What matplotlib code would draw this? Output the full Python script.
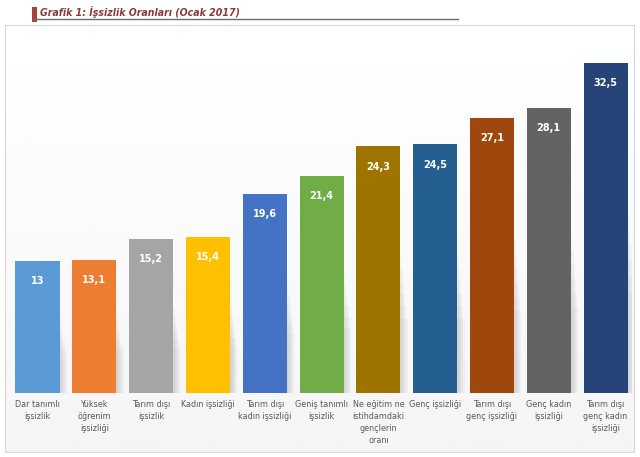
import matplotlib
matplotlib.use("Agg")
import matplotlib.pyplot as plt
import numpy as np
from matplotlib.patches import Rectangle

categories = ["Dar tanımlı\nişsizlik", "Yüksek\nöğrenim\nişsizliği", "Tarım dışı\nişsizlik",
              "Kadın işsizliği", "Tarım dışı\nkadın işsizliği", "Geniş tanımlı\nişsizlik",
              "Ne eğitim ne\nistihdamdaki\ngençlerin\noranı", "Genç işsizliği",
              "Tarım dışı\ngenç işsizliği", "Genç kadın\nişsizliği", "Tarım dışı\ngenç kadın\nişsizliği"]
values = [13, 13.1, 15.2, 15.4, 19.6, 21.4, 24.3, 24.5, 27.1, 28.1, 32.5]
value_labels = ["13", "13,1", "15,2", "15,4", "19,6", "21,4", "24,3", "24,5", "27,1", "28,1", "32,5"]
colors = ["#5B9BD5", "#ED7D31", "#A5A5A5", "#FFC000", "#4472C4", "#70AD47",
          "#9E7400", "#255E91", "#9E480E", "#636363", "#264478"]
title = "Grafik 1: İşsizlik Oranları (Ocak 2017)"

W, H = 640, 457
fig = plt.figure(figsize=(W / 100, H / 100), dpi=100)
fig.patch.set_facecolor("white")

def fx(px):
    return px / W

def fy(py):
    return 1 - py / H

# background panel with gradient
bg = fig.add_axes([fx(5), fy(452), fx(629), (452 - 25) / H])
grad = np.linspace(1.0, 0.96, 256).reshape(-1, 1)
bg.imshow(grad, aspect="auto", cmap="gray", vmin=0, vmax=1, extent=[0, 1, 0, 1], origin="upper")
bg.set_xticks([]); bg.set_yticks([])
for s in bg.spines.values():
    s.set_color("#d9d9d9"); s.set_linewidth(0.8)

# title decoration
fig.patches.append(Rectangle((fx(32), fy(22)), fx(5), 15 / H, transform=fig.transFigure,
                             facecolor="#A8403C", edgecolor="none"))
fig.lines.append(plt.Line2D([fx(33), fx(458)], [fy(18.5), fy(18.5)], transform=fig.transFigure,
                            color="#6b6b6b", linewidth=1.0))
fig.text(fx(40), fy(12), title, fontsize=7.6, fontstyle="italic", fontweight="bold",
         fontstretch="condensed", color="#8B3A3A", va="center", ha="left",
         family=["DejaVu Sans"])

# main axes
left_px, right_px = 12, 632
top_px, base_px = 50, 393
ax = fig.add_axes([fx(left_px), fy(base_px), (right_px - left_px) / W, (base_px - top_px) / H])
ax.patch.set_alpha(0)
x = np.arange(len(values))
ax.set_xlim(-0.449, 10.466)
ax.set_ylim(0, (base_px - top_px) / 10.15)

bw = 0.775
# soft shadows
for k in range(6):
    off = 0.03 + k * 0.02
    ax.bar(x + off, [v * (0.55 - k * 0.05) for v in values], width=bw, color="#7f7f7f",
           alpha=0.05, linewidth=0, zorder=1)
ax.bar(x, values, width=bw, color=colors, linewidth=0, zorder=2)

for xi, v, lab in zip(x, values, value_labels):
    ax.text(xi, v - 2.0, lab, ha="center", va="center", color="white",
            fontsize=7, fontweight="bold", zorder=3)

ax.set_xticks(x)
ax.set_xticklabels(categories, fontsize=5.8, color="#595959", linespacing=1.45, va="top")
ax.tick_params(axis="x", length=0, pad=5)
ax.set_yticks([])
for s in ax.spines.values():
    s.set_visible(False)

fig.savefig("out.png", dpi=100, facecolor="white")
